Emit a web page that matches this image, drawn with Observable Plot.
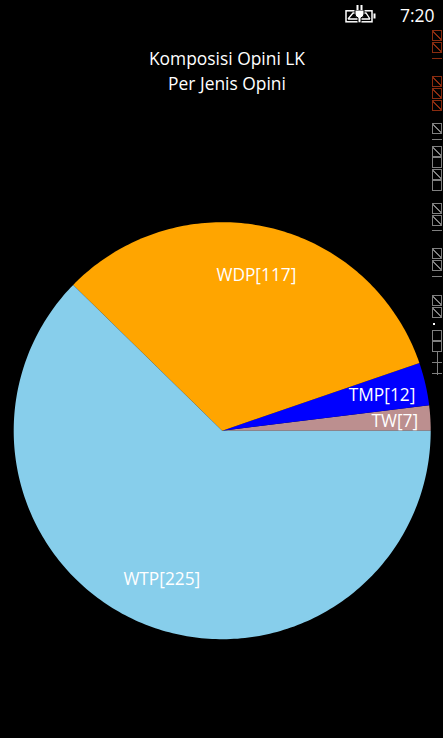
<!DOCTYPE html>
<html><head><meta charset="utf-8">
<script src="https://cdn.jsdelivr.net/npm/d3@7"></script>
<script src="https://cdn.jsdelivr.net/npm/@observablehq/plot@0.6"></script>
<style>
html,body{margin:0;padding:0;background:#000;width:443px;height:738px;overflow:hidden;color:#fff;font-family:"Open Sans",sans-serif}
#wrap{position:relative;width:443px;height:738px}
#wrap svg.chart{position:absolute;left:0;top:0}
#title{position:absolute;left:0;top:46px;width:454px;text-align:center;font-size:17.4px;line-height:25px}
#time{position:absolute;left:400px;top:3px;font-size:17.5px;line-height:24px}
#icon{position:absolute;left:345px;top:4px}
#strip{position:absolute;left:432px;top:30px;display:flex;flex-direction:column;align-items:flex-start}
.g{box-sizing:border-box;width:10px;height:11px;border:1px solid currentColor}
.d{background:linear-gradient(45deg,transparent 46%,currentColor 46%,currentColor 54%,transparent 54%)}
.l{box-sizing:border-box;width:10px;height:1px;background:currentColor}
.c{background:linear-gradient(90deg,transparent 44%,currentColor 44%,currentColor 56%,transparent 56%)}
.s{width:10px;height:23px;background:
 linear-gradient(currentColor,currentColor) 0 10px/10px 1px no-repeat,
 linear-gradient(currentColor,currentColor) 0 21px/10px 1px no-repeat,
 linear-gradient(currentColor,currentColor) 5px 0/1px 23px no-repeat}
</style></head><body><div id="wrap">
<svg id="icon" width="31" height="20" viewBox="0 0 31 20" fill="none" stroke="#fff" stroke-width="1.5">
<rect x="1" y="6.8" width="26" height="11"/><rect x="28.5" y="9.5" width="2" height="5" fill="#fff" stroke="none"/>
<path d="M3 15l5-6h6M25 15l-4-6h-4M3 15h22" stroke-width="1.3"/>
<path d="M10 6h9v4a4 4 0 0 1-3 3.8v5h-3v-5a4 4 0 0 1-3-3.8z" fill="#fff" stroke="#000" stroke-width="1"/>
<path d="M12.5 1v5M16.5 1v5" stroke-width="2"/>
</svg>
<div id="time">7:20</div>
<div id="title">Komposisi Opini LK<br>Per Jenis Opini</div>
<div id="strip"></div>
</div>
<script>
const categories = ["TW", "TMP", "WDP", "WTP"];
const counts = [7, 12, 117, 225];
const colors = ["rosybrown", "blue", "orange", "skyblue"];
const labelShift = [13, 4, -1, 0];

// Stray glyphs along the right edge: kind, colour group, gap before
const stripGlyphs = [
  ["box","o",0],["box","o",1],["line","o",5],
  ["box","o",17],["box","o",1],["box","o",1],
  ["box","w",12],["line","w",5],["box","w",6],["open","w",0],["box","w",1],["open","w",0],
  ["box","w",12],["box","w",1],["line","w",4],
  ["box","w",17],["box","w",1],["line","w",5],
  ["box","w",18],["box","w",1],["dot","w",5],["cell","w",5],["cell","w",0],["stem","w",0]
];

const pie = d3.pie().sort(null).startAngle(0).endAngle(2 * Math.PI)(counts);
const polys = [];
pie.forEach((s, i) => {
  polys.push({cat: categories[i], x: 0, y: 0});
  const n = Math.max(2, Math.ceil((s.endAngle - s.startAngle) / (2 * Math.PI) * 360));
  for (let k = 0; k <= n; k++) {
    const a = s.startAngle + (s.endAngle - s.startAngle) * k / n;
    polys.push({cat: categories[i], x: Math.cos(a), y: Math.sin(a)});
  }
});
const labels = pie.map((s, i) => {
  const a = (s.startAngle + s.endAngle) / 2;
  return {text: `${categories[i]}[${counts[i]}]`, x: 0.767 * Math.cos(a), y: 0.767 * Math.sin(a), dx: labelShift[i]};
});

const R = 208.5, cx = 221.7, cy = 430.2;
const chart = Plot.plot({
  width: 443, height: 738, margin: 0,
  style: {background: "transparent", fontFamily: "'Open Sans',sans-serif"},
  x: {domain: [-1, 1], range: [cx - R, cx + R], axis: null},
  y: {domain: [-1, 1], range: [cy + R, cy - R], axis: null},
  color: {domain: categories, range: colors},
  marks: [
    Plot.line(polys, {x: "x", y: "y", z: "cat", fill: "cat", stroke: "none", curve: "linear-closed"}),
    ...labels.map(l => Plot.text([l], {x: "x", y: "y", text: "text", dx: l.dx, dy: 0.5, fill: "white", fontSize: 17.3}))
  ]
});
chart.classList.add("chart");
const wrap = document.getElementById("wrap");
wrap.insertBefore(chart, wrap.firstChild);

const strip = document.getElementById("strip");
for (const [kind, col, gap] of stripGlyphs) {
  const el = document.createElement("div");
  el.style.marginTop = gap + "px";
  el.style.color = col === "o" ? "#8a2c10" : "#808080";
  if (kind === "box") el.className = "g d";
  else if (kind === "open") el.className = "g";
  else if (kind === "cell") el.className = "g c";
  else if (kind === "line") el.className = "l";
  else if (kind === "stem") el.className = "s";
  else { el.className = "l"; el.style.width = "2px"; el.style.height = "2px"; el.style.background = "#fff"; el.style.marginLeft = "1px"; }
  strip.appendChild(el);
}
</script></body></html>
